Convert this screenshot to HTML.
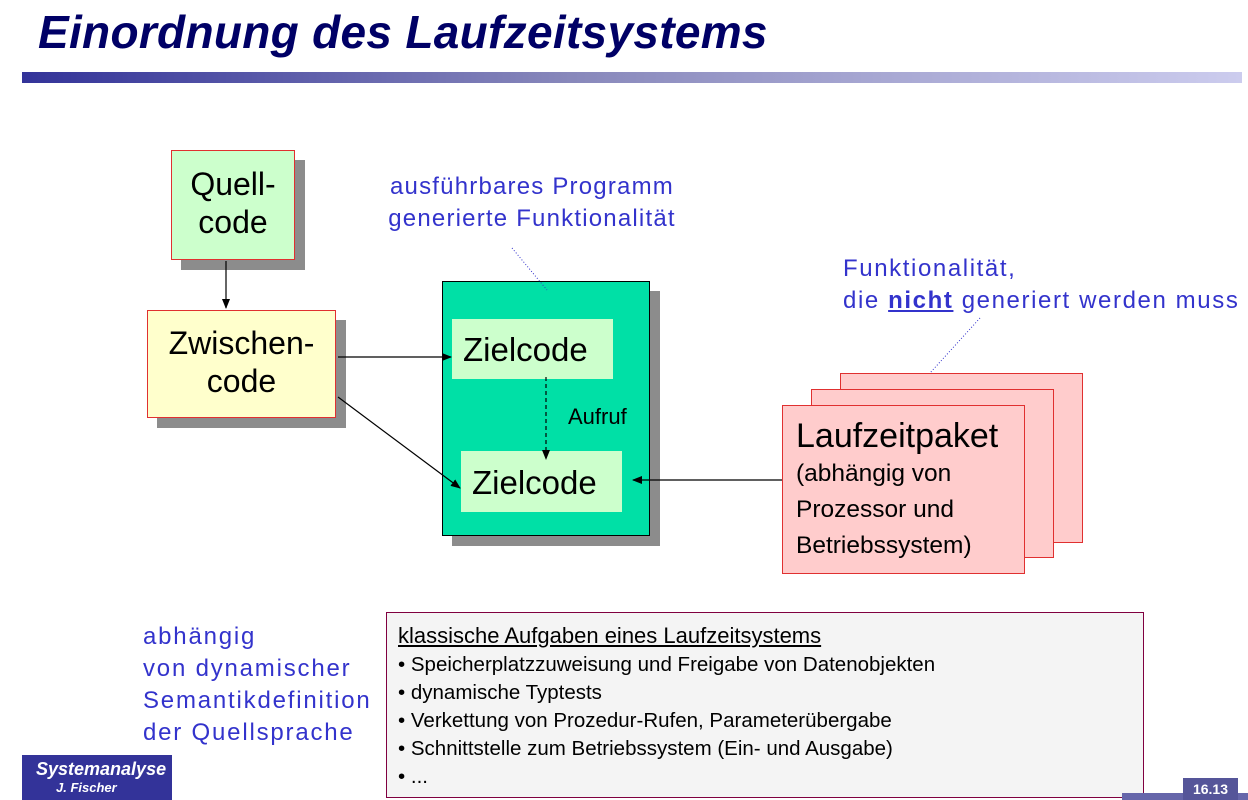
<!DOCTYPE html>
<html><head><meta charset="utf-8"><style>
body{margin:0;width:1248px;height:800px;overflow:hidden;background:#fff;position:relative;font-family:"Liberation Sans","DejaVu Sans",sans-serif}
.a{position:absolute;box-sizing:border-box}
.sh{box-shadow:10px 10px 0 #8c8c8c}
.blue{color:#3333cc;font-size:24px;line-height:32px;letter-spacing:1.2px}
.big{font-size:32px;line-height:38px;text-align:center}
</style></head><body>
<div class="a" style="left:38px;top:5px;font-size:46px;font-weight:bold;font-style:italic;color:#000066;letter-spacing:0.3px">Einordnung des Laufzeitsystems</div>
<div class="a" style="left:22px;top:72px;width:1220px;height:11px;background:linear-gradient(to right,#333399,#8888bb 45%,#ccccee)"></div>

<div class="a sh big" style="left:171px;top:150px;width:124px;height:110px;background:#ccffcc;border:1px solid #e03030;padding-top:14px">Quell-<br>code</div>
<div class="a sh big" style="left:147px;top:310px;width:189px;height:108px;background:#ffffcc;border:1px solid #e03030;padding-top:13px">Zwischen-<br>code</div>

<div class="a sh" style="left:442px;top:281px;width:208px;height:255px;background:#00e0a6;border:1.5px solid #000"></div>
<div class="a" style="left:452px;top:319px;width:161px;height:60px;background:#ccffcc;font-size:33px;line-height:62px;padding-left:11px">Zielcode</div>
<div class="a" style="left:461px;top:451px;width:161px;height:61px;background:#ccffcc;font-size:33px;line-height:64px;padding-left:11px">Zielcode</div>
<div class="a" style="left:568px;top:404px;font-size:22px">Aufruf</div>

<div class="a" style="left:840px;top:373px;width:243px;height:170px;background:#ffcccc;border:1px solid #e03030"></div>
<div class="a" style="left:811px;top:389px;width:243px;height:169px;background:#ffcccc;border:1px solid #e03030"></div>
<div class="a" style="left:782px;top:405px;width:243px;height:169px;background:#ffcccc;border:1px solid #e03030;padding:10px 0 0 13px">
<div style="font-size:34px;line-height:40px">Laufzeitpaket</div>
<div style="font-size:24.5px;line-height:36px">(abhängig von<br>Prozessor und<br>Betriebssystem)</div></div>

<div class="a blue" style="left:372px;top:171px;text-align:center;width:320px">ausführbares Programm<br>generierte Funktionalität</div>
<div class="a blue" style="left:843px;top:253px;letter-spacing:1.6px">Funktionalität,<br>die <b style="text-decoration:underline">nicht</b> generiert werden muss</div>
<div class="a blue" style="left:143px;top:621px;letter-spacing:1.8px">abhängig<br>von dynamischer<br>Semantikdefinition<br>der Quellsprache</div>

<svg class="a" style="left:0;top:0" width="1248" height="800">
<defs><marker id="m" markerWidth="10" markerHeight="8" refX="9" refY="4" orient="auto" markerUnits="userSpaceOnUse"><path d="M0,0L10,4L0,8z"/></marker></defs>
<g stroke="#000" stroke-width="1.2" fill="none">
<line x1="226" y1="261" x2="226" y2="308" marker-end="url(#m)"/>
<line x1="338" y1="357" x2="451" y2="357" marker-end="url(#m)"/>
<line x1="338" y1="397" x2="460" y2="488" marker-end="url(#m)"/>
<line x1="546" y1="377" x2="546" y2="459" stroke-dasharray="4,3" marker-end="url(#m)"/>
<line x1="782" y1="480" x2="633" y2="480" marker-end="url(#m)"/>
</g>
<g stroke="#3333cc" stroke-width="1" stroke-dasharray="1,2"><line x1="512" y1="248" x2="547" y2="290"/><line x1="980" y1="318" x2="930" y2="373"/></g>
</svg>

<div class="a" style="left:386px;top:612px;width:758px;height:186px;background:#f4f4f4;border:1.5px solid #800040;padding:8px 0 0 11px;font-size:20.5px;line-height:28px">
<div style="text-decoration:underline;font-size:22px;line-height:30px">klassische Aufgaben eines Laufzeitsystems</div>
<div>• Speicherplatzzuweisung und Freigabe von Datenobjekten</div>
<div>• dynamische Typtests</div>
<div>• Verkettung von Prozedur-Rufen, Parameterübergabe</div>
<div>• Schnittstelle zum Betriebssystem (Ein- und Ausgabe)</div>
<div>• ...</div></div>

<div class="a" style="left:22px;top:755px;width:150px;height:45px;background:#333399;color:#fff;font-style:italic;font-weight:bold;font-size:18px;padding:4px 0 0 14px">Systemanalyse<div style="font-size:13px;padding-left:20px">J. Fischer</div></div>
<div class="a" style="left:1122px;top:793px;width:126px;height:7px;background:#6666aa"></div>
<div class="a" style="left:1183px;top:778px;width:55px;height:22px;background:#555599;color:#fff;font-size:14px;font-weight:bold;text-align:center;line-height:22px">16.13</div>
</body></html>
